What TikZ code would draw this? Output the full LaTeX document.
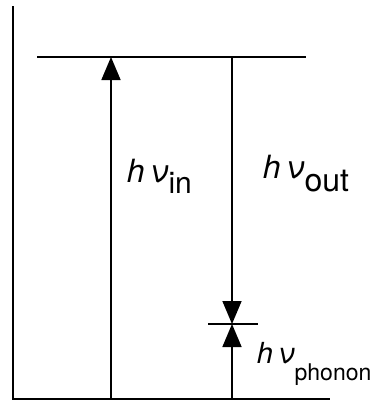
\documentclass[tikz,border=0pt]{standalone}
\usepackage{fontspec}
\setmainfont{TeX Gyre Heros}
\usetikzlibrary{arrows.meta}
\begin{document}
\begin{tikzpicture}[x=1pt,y=-1pt,line width=1.7pt,
  photon/.style={-{Triangle[length=23pt,width=19pt]}},
  lbl/.style={inner sep=0pt,anchor=base west}]
\useasboundingbox (0,0) rectangle (380,402);
% coordinates
\coordinate (axtop) at (13,6);
\coordinate (orig) at (13,399);
\coordinate (gend) at (330,399);
\coordinate (upL) at (37,57);
\coordinate (upR) at (306,57);
\coordinate (inB) at (111,399);
\coordinate (inT) at (111,57);
\coordinate (outT) at (232,57);
\coordinate (mid) at (232,324);
\coordinate (phB) at (232,399);
\coordinate (vL) at (208,324);
\coordinate (vR) at (258,324);
% axes and levels
\draw (axtop) -- (orig) -- (gend);
\draw (upL) -- (upR);
\draw[line width=1.2pt] (vL) -- (vR);
% transitions
\draw[photon] (inB) -- (inT);
\draw[photon] (outT) -- (mid);
\draw[photon] (phB) -- (mid);
% labels
\node[lbl] (lin) at (126,182) {\fontsize{32}{32}\selectfont\textit{h\,ν}\raisebox{-11pt}{\fontsize{30}{30}\selectfont in}};
\node[lbl] (lout) at (262,178) {\fontsize{32}{32}\selectfont\textit{h\,ν}\raisebox{-13pt}{\fontsize{32}{32}\selectfont out}};
\node[lbl] (lph) at (256,363) {\fontsize{29}{29}\selectfont\textit{h\,ν}\raisebox{-17pt}{\fontsize{23}{23}\selectfont phonon}};
\end{tikzpicture}
\end{document}
